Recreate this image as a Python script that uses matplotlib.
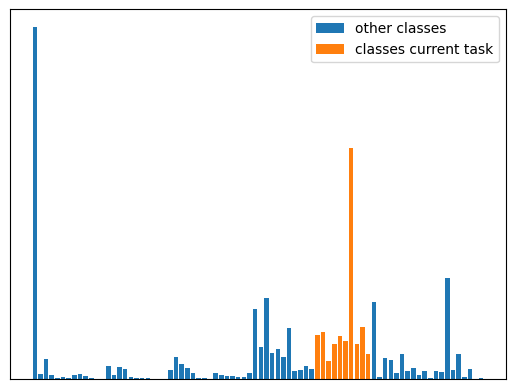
import matplotlib
matplotlib.use('Agg')
from matplotlib import pyplot as plt
import numpy as np

# samples per class, classes 0..79
counts = [352, 5, 20, 4, 1.5, 2, 1.5, 4, 5, 3,
          1, 0, 0, 13, 4, 12, 10, 2, 1, 1,
          1, 0, 0, 0, 9, 22, 15, 11, 6, 1,
          1, 0, 6, 4, 3, 3, 2, 2, 6, 70,
          32, 81, 26, 30, 22, 51, 8, 9, 13, 10,
          44, 47, 18, 35, 43, 38, 231, 35, 52, 25,
          77, 2, 21, 19, 6, 25, 8, 11, 4, 8,
          1, 8, 7, 101, 9, 25, 2, 10, 0, 1]
task_classes = list(range(50, 60))

classes = np.arange(len(counts))
counts = np.array(counts, dtype=float)
is_task = np.isin(classes, task_classes)

fig = plt.figure(figsize=(5.15, 3.89), dpi=100)
ax = fig.add_axes([10 / 515, 10 / 389, 496 / 515, 369.6 / 389])
ax.bar(classes[~is_task], counts[~is_task], color='tab:blue', label='other classes')
ax.bar(classes[is_task], counts[is_task], color='tab:orange', label='classes current task')
ax.set_xticks([])
ax.set_yticks([])
ax.legend(loc='upper right')

fig.savefig('out.png', dpi=100)
